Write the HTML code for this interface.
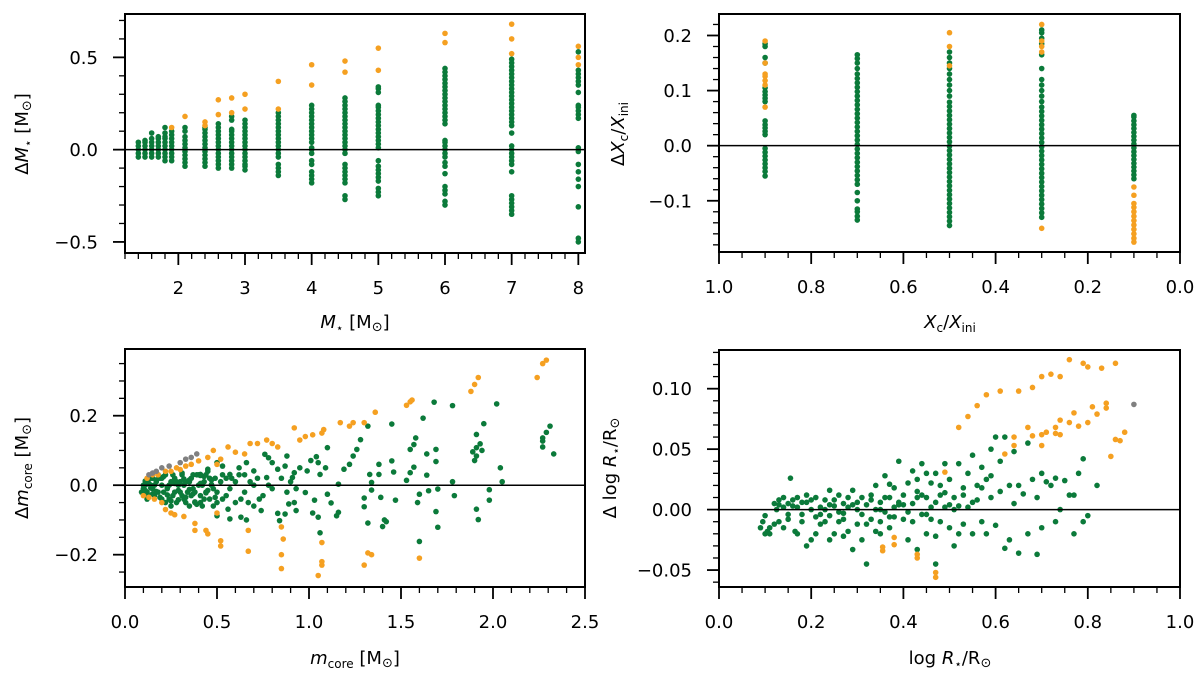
<!DOCTYPE html>
<html><head><meta charset="utf-8"><style>
body{margin:0;background:#fff;}
svg{display:block;font-family:"DejaVu Sans","Liberation Sans",sans-serif;}
</style></head><body>
<svg id="fig" width="1200" height="676" viewBox="0 0 1200 676" xmlns="http://www.w3.org/2000/svg" style="position:absolute;left:0;top:0;">
<g id="layer"></g>
</svg>
<script>
// ---------- data ----------
const massCols = [1.4,1.5,1.6,1.7,1.8,1.9,2.1,2.4,2.6,2.8,3.0,3.5,4.0,4.5,5.0,6.0,7.0,8.0];
const massGreen = [
 [-0.04,-0.02,0,0.02,0.04],
 [-0.04,-0.02,0,0.02,0.04,0.05],
 [-0.04,-0.02,0,0.02,0.04,0.06,0.09],
 [-0.04,-0.02,0,0.02,0.04,0.06,0.07],
 [-0.06,-0.04,-0.02,0,0.02,0.04,0.06,0.07,0.09,0.12],
 [-0.06,-0.04,-0.02,0,0.02,0.04,0.06,0.08,0.1],
 [-0.09,-0.07,-0.05,-0.03,-0.01,0.01,0.03,0.05,0.07,0.1,0.12],
 [-0.09,-0.07,-0.05,-0.03,-0.01,0.01,0.03,0.05,0.07,0.09,0.11,0.12],
 [-0.1,-0.08,-0.06,-0.04,-0.02,0,0.02,0.04,0.06,0.08,0.1,0.12,0.14],
 [-0.1,-0.08,-0.06,-0.04,-0.02,0,0.02,0.04,0.06,0.08,0.1,0.11,0.16,0.18],
 [-0.11,-0.09,-0.08,-0.06,-0.04,-0.02,0,0.02,0.04,0.06,0.08,0.1,0.12,0.14,0.16],
 [-0.14,-0.12,-0.1,-0.08,-0.04,-0.02,0,0.02,0.04,0.06,0.08,0.1,0.12,0.14,0.16,0.18,0.2],
 [-0.18,-0.16,-0.14,-0.12,-0.08,-0.06,-0.02,0,0.01,0.04,0.06,0.08,0.1,0.12,0.14,0.16,0.18,0.2,0.22,0.24],
 [-0.27,-0.25,-0.18,-0.16,-0.14,-0.12,-0.1,-0.08,-0.02,0,0.02,0.04,0.06,0.08,0.1,0.12,0.14,0.16,0.18,0.2,0.22,0.24,0.26,0.28],
 [-0.25,-0.23,-0.21,-0.17,-0.15,-0.13,-0.11,-0.09,-0.06,0.01,0.03,0.05,0.07,0.09,0.11,0.13,0.15,0.17,0.19,0.21,0.23,0.24,0.31,0.33,0.34],
 [-0.3,-0.28,-0.24,-0.22,-0.2,-0.13,-0.09,-0.07,-0.04,-0.02,0,0.02,0.04,0.05,0.14,0.16,0.18,0.2,0.22,0.24,0.26,0.28,0.3,0.32,0.34,0.36,0.38,0.4,0.42,0.44],
 [-0.35,-0.33,-0.31,-0.29,-0.27,-0.25,-0.12,-0.08,-0.06,-0.04,-0.02,0,0.02,0.09,0.13,0.15,0.17,0.19,0.21,0.23,0.25,0.27,0.29,0.31,0.33,0.35,0.37,0.39,0.41,0.43,0.45,0.47,0.49],
 [-0.5,-0.48,-0.31,-0.2,-0.16,-0.12,-0.08,-0.01,0.01,0.17,0.19,0.21,0.23,0.24,0.31,0.35,0.37,0.39,0.41,0.43,0.53]
];
const massOrange = [[],[],[],[],[],[0.12],[0.18],[0.13,0.15],[0.19,0.27],[0.2,0.28],[0.22,0.3],[0.22,0.37],[0.35,0.46],[0.42,0.48],[0.43,0.55],[0.58,0.63],[0.52,0.6,0.68],[0.46,0.5,0.56]];

const xcCols = [0.9,0.7,0.5,0.3,0.1];
const xcGreen = [
 [-0.055,-0.047,-0.04,-0.033,-0.026,-0.019,-0.012,-0.005,0.02,0.026,0.032,0.038,0.045,0.08,0.086,0.092,0.098,0.105,0.15,0.16,0.18,0.185],
 [-0.135,-0.128,-0.12,-0.115,-0.1,-0.085,-0.07,-0.062,-0.054,-0.046,-0.038,-0.03,-0.022,-0.014,-0.006,0.002,0.01,0.018,0.026,0.034,0.042,0.05,0.058,0.066,0.074,0.082,0.09,0.098,0.106,0.114,0.122,0.13,0.14,0.15,0.158,0.165],
 [-0.145,-0.137,-0.129,-0.121,-0.113,-0.105,-0.097,-0.089,-0.081,-0.073,-0.065,-0.057,-0.049,-0.041,-0.033,-0.025,-0.017,-0.009,-0.001,0.007,0.015,0.023,0.031,0.039,0.047,0.055,0.063,0.071,0.079,0.09,0.1,0.11,0.12,0.13,0.14,0.15,0.16,0.17],
 [-0.13,-0.122,-0.114,-0.106,-0.098,-0.09,-0.082,-0.074,-0.066,-0.058,-0.05,-0.042,-0.034,-0.026,-0.018,-0.01,-0.002,0.006,0.014,0.022,0.03,0.038,0.046,0.054,0.062,0.07,0.08,0.09,0.1,0.11,0.12,0.14,0.165,0.185,0.195,0.205,0.21],
 [-0.06,-0.053,-0.046,-0.039,-0.032,-0.025,-0.018,-0.011,-0.004,0.003,0.01,0.017,0.024,0.031,0.038,0.045,0.052,0.055]
];
const xcOrange = [[0.07,0.11,0.118,0.126,0.13,0.15,0.19],[],[0.145,0.18,0.205],[-0.15,0.17,0.18,0.19,0.22],[-0.175,-0.168,-0.16,-0.152,-0.144,-0.136,-0.128,-0.12,-0.112,-0.105,-0.09,-0.075]];

const coreGreenX = [1.68,1.78,2.02,1.62,1.45,1.32,1.95,2.31,2.29,2.27,2.27,2.27,2.33,1.91,1.93,1.91,1.94,1.89,1.9,1.91,1.58,1.57,1.55,1.64,1.69,1.69,1.57,1.55,1.53,1.64,2.04,2.05,1.78,1.45,1.38,1.38,1.46,1.33,1.34,1.28,1.26,1.24,1.22,1.19,1.16,1.1,1.04,1.01,1.05,1.09,1.06,0.99,1.6,1.59,1.65,1.7,1.79,1.47,1.39,1.3,1.3,1.34,1.41,1.42,1.4,1.32,1.6,1.69,1.7,1.91,1.92,1.98,1.98,1.06,1.05,1.02,1.12,1.16,1.15,1.1,1.03,0.98,0.93,0.92,0.89,0.87,0.84,0.83,0.74,0.66,0.63,0.57,0.56,0.5,0.95,0.92,0.91,0.87,0.88,0.83,0.8,0.76,0.78,0.77,0.7,0.66,0.62,0.57,0.53,0.5,0.45,0.41,
 0.1,0.1,0.11,0.12,0.12,0.13,0.14,0.14,0.15,0.16,0.17,0.18,0.19,0.2,0.2,0.21,0.22,0.23,0.24,0.25,0.26,0.27,0.28,0.29,0.3,0.31,0.32,0.33,0.34,0.35,0.36,0.37,0.38,0.39,0.4,0.41,0.42,0.43,0.44,0.45,0.46,0.47,0.48,0.49,0.5,0.52,0.53,0.55,0.57,0.6,0.62,0.65,0.68,0.7,0.72,0.75,0.78,0.8,0.85,0.88,0.9,0.93,
 0.12,0.15,0.18,0.22,0.25,0.27,0.3,0.33,0.36,0.4,0.43,0.46,0.5,0.55,0.6,0.65,0.7,0.16,0.2,0.24,0.28,0.32,0.35,0.38,0.42,0.48,0.1,0.09,0.13,0.26,0.31,0.37,0.41,0.44,0.53,0.58,0.63,0.67,0.73,
 0.11,0.13,0.15,0.17,0.19,0.21,0.23,0.25,0.27,0.29,0.31,0.33,0.35,0.37,0.39,0.41,0.43,0.45,0.47,0.49,0.11,0.14,0.17,0.2,0.23,0.26,0.29,0.32,0.35,0.38,0.41,0.44,0.47];
const coreGreenY = [0.239,0.229,0.234,0.193,0.176,0.17,0.177,0.17,0.152,0.136,0.127,0.11,0.09,0.146,0.119,0.108,0.1,0.096,0.071,0.084,0.136,0.117,0.103,0.09,0.103,0.068,0.052,0.036,0.014,0.029,0.05,0.01,0.01,0.07,0.06,0.031,0.038,0.031,0.008,0.131,0.103,0.084,0.06,0.046,0.003,0.108,0.082,0.071,0.065,0.05,0.031,0.041,-0.026,-0.05,-0.016,-0.011,-0.03,-0.043,-0.035,-0.037,-0.062,-0.014,-0.1,-0.105,-0.119,-0.109,-0.162,-0.076,-0.121,-0.069,-0.099,-0.013,-0.043,-0.137,-0.092,-0.08,-0.051,-0.078,-0.088,-0.026,-0.043,-0.021,-0.073,-0.05,-0.054,-0.083,-0.102,-0.081,-0.073,-0.1,-0.092,-0.097,-0.069,-0.088,0.05,0.036,0.022,0.055,0.084,0.046,0.065,0.089,0.079,0.022,0.041,0.065,0.05,0.031,0.055,0.065,0.046,0.031,
 -0.02,-0.01,0,-0.02,0.01,-0.03,0,0.02,-0.01,-0.03,0.01,-0.02,0.02,-0.04,0,-0.02,0.03,-0.01,-0.04,0.01,-0.03,0.02,-0.05,0,-0.02,0.03,-0.04,0.01,-0.02,-0.06,0.02,-0.01,-0.05,0.03,0,-0.03,-0.06,0.01,-0.02,0.04,-0.04,0,-0.06,0.02,-0.02,0.01,-0.04,0.02,-0.01,-0.05,0.03,-0.02,0.01,-0.06,0.02,-0.03,0,-0.01,0.02,-0.02,0.01,-0.01,
 -0.04,0.02,0.03,-0.05,-0.06,-0.02,0.01,-0.05,-0.03,0.03,-0.04,0.02,-0.05,-0.03,0.01,0.03,0,0,0.02,0,0.01,0,0.01,-0.02,0,-0.01,0,-0.02,0.02,0.03,-0.03,0.03,-0.05,0.03,0.03,0.02,-0.04,-0.05,-0.04,
 -0.015,0.005,-0.025,0.015,-0.035,0.025,-0.005,-0.045,0.005,-0.015,0.035,-0.035,0.015,-0.025,-0.055,0.005,0.025,-0.015,0.015,-0.035,0.012,-0.008,-0.018,0.022,-0.028,0.008,-0.042,0.018,-0.012,-0.048,0.028,-0.022,0.002];
const coreOrangeX = [0.12,0.15,0.18,0.22,0.25,0.28,0.3,0.33,0.36,0.4,0.45,0.48,0.5,0.52,0.56,0.6,0.65,0.68,0.72,0.77,0.8,0.83,0.92,0.95,0.98,1.02,1.07,1.08,1.17,1.22,1.24,1.3,1.36,1.53,1.55,1.56,1.88,1.9,1.92,2.24,2.27,2.29,
 0.1,0.13,0.16,0.2,0.22,0.25,0.27,0.32,0.38,0.38,0.44,0.45,0.5,0.52,0.52,0.67,0.67,0.85,0.86,0.85,0.85,1.05,1.07,1.07,1.07,1.3,1.32,1.34,1.6];
const coreOrangeY = [0.02,0.03,0.03,0.04,0.04,0.05,0.045,0.055,0.06,0.07,0.08,0.1,0.06,0.075,0.11,0.095,0.09,0.12,0.12,0.13,0.12,0.11,0.165,0.13,0.14,0.145,0.15,0.16,0.18,0.17,0.18,0.18,0.21,0.23,0.24,0.245,0.27,0.29,0.31,0.31,0.35,0.36,
 -0.03,-0.035,-0.04,-0.05,-0.07,-0.08,-0.085,-0.09,-0.11,-0.13,-0.13,-0.14,-0.08,-0.16,-0.175,-0.13,-0.19,-0.12,-0.155,-0.2,-0.24,-0.26,-0.165,-0.22,-0.23,-0.23,-0.195,-0.2,-0.21];
const coreGrayX = [0.13,0.15,0.17,0.2,0.24,0.3,0.33,0.36,0.39];
const coreGrayY = [0.03,0.035,0.04,0.05,0.055,0.065,0.075,0.08,0.09];

const radGreenX = [0.09,0.095,0.1,0.1,0.105,0.11,0.11,0.12,0.12,0.125,0.13,0.13,0.14,0.14,0.15,0.15,0.155,0.16,0.165,0.17,0.17,0.18,0.18,0.19,0.19,0.2,0.2,0.21,0.21,0.22,0.22,0.23,0.23,0.24,0.24,0.25,0.25,0.26,0.26,0.27,0.27,0.28,0.28,0.29,0.29,0.3,0.3,0.31,0.31,0.32,0.32,0.33,0.33,0.34,0.34,0.35,0.35,0.36,0.36,0.37,0.37,0.38,0.38,0.39,0.39,0.4,0.4,0.41,0.41,0.42,0.42,0.43,0.43,0.44,0.44,0.45,0.45,0.46,0.46,0.47,0.47,0.48,0.48,0.49,0.49,0.5,0.5,0.51,0.51,0.52,0.52,0.53,0.53,0.54,0.54,0.55,0.55,0.56,0.56,0.57,0.57,0.58,0.58,0.59,0.59,0.6,0.6,0.61,0.61,0.62,0.62,0.63,0.63,0.64,0.64,0.65,0.65,0.66,0.67,0.67,0.68,0.69,0.69,0.7,0.7,0.71,0.72,0.73,0.73,0.74,0.75,0.76,0.77,0.77,0.78,0.79,0.79,0.8,0.82,
 0.14,0.16,0.18,0.2,0.22,0.24,0.26,0.28,0.3,0.32,0.34,0.36,0.38,0.4,0.42,0.44,0.46,0.48,0.5,0.35,0.27,0.24,0.37,0.43,0.47,0.52,0.45,
 0.13,0.15,0.17,0.19,0.21,0.23,0.25,0.27,0.29,0.31,0.33,0.35,0.37,0.39,0.41,0.43,0.45,0.47,0.49,0.51,0.53,0.55,0.57,0.59];
const radGreenY = [-0.015,-0.01,-0.005,-0.02,-0.018,-0.015,-0.02,-0.012,0.005,0,0.008,-0.01,0.01,-0.015,0.005,-0.008,0.026,0.003,-0.018,0.01,-0.02,0.006,-0.01,0.012,-0.03,0,-0.025,0.01,-0.02,0.002,-0.012,0.008,-0.01,0.016,-0.005,0.003,-0.02,0.012,-0.01,-0.003,0.005,0.01,-0.018,0.016,-0.033,0,-0.012,0.01,-0.025,0.004,-0.045,-0.008,0.012,-0.018,0.02,0.006,-0.01,0.028,-0.002,0.01,-0.015,0.018,-0.006,0.004,0.04,0.012,-0.008,0.022,-0.025,0.032,0.005,0.015,-0.033,0.038,-0.004,0.01,-0.02,0.022,0.002,-0.045,0.03,0.012,-0.01,0.038,0.002,0.025,-0.015,0.01,-0.03,0.038,0.003,0.018,-0.012,0.03,0.002,0.045,-0.02,0.02,0.008,0.035,-0.01,0.025,-0.02,0.05,0.01,0.06,-0.013,0.04,0.015,0.06,-0.032,0.02,-0.025,0.048,0.005,0.02,-0.036,0.013,0.055,-0.02,0.025,0.01,-0.037,0.03,-0.015,0.023,0.02,0.026,-0.01,0,0.024,0.012,0.012,-0.02,0.03,0.042,-0.01,-0.005,0.02,
 0.002,0.008,-0.004,0.008,-0.004,0.004,-0.002,0.002,0.006,-0.012,0,0.01,0.002,0.004,-0.01,0.012,-0.008,0.02,0.004,-0.02,-0.022,-0.025,0.021,0.025,-0.022,-0.02,0.03,
 0.004,-0.004,0.002,0.006,-0.006,0.0,0.008,-0.008,0.004,-0.004,0.008,0.0,-0.006,0.006,-0.002,0.01,-0.004,0.006,0.014,0.0,0.012,0.006,0.018,0.028];
const radOrangeX = [0.52,0.54,0.56,0.58,0.61,0.65,0.68,0.7,0.72,0.74,0.76,0.79,0.8,0.83,0.86,0.62,0.64,0.64,0.67,0.68,0.7,0.7,0.71,0.73,0.73,0.74,0.74,0.76,0.77,0.78,0.8,0.81,0.82,0.84,0.84,0.85,0.86,0.87,0.88,0.355,0.355,0.38,0.38,0.43,0.43,0.47,0.47,0.49];
const radOrangeY = [0.068,0.077,0.086,0.095,0.098,0.098,0.101,0.11,0.112,0.11,0.124,0.121,0.118,0.117,0.121,0.046,0.053,0.06,0.068,0.061,0.062,0.053,0.064,0.063,0.068,0.062,0.074,0.072,0.08,0.069,0.072,0.085,0.079,0.088,0.084,0.044,0.058,0.057,0.064,-0.034,-0.031,-0.023,-0.029,-0.04,-0.037,-0.056,-0.052,0.031];
const radGrayX = [0.9];
const radGrayY = [0.087];

// ---------- rendering ----------
const NS = 'http://www.w3.org/2000/svg';
const layer = document.getElementById('layer');
const GREEN = '#0b7a3a', ORANGE = '#f5a021', GRAY = '#808080';
function el(tag, attrs, parent){
  const e = document.createElementNS(NS, tag);
  for (const k in attrs) e.setAttribute(k, attrs[k]);
  (parent||layer).appendChild(e);
  return e;
}
function makeAxes(name, box, xlim, ylim, xmaj, xmin, ymaj, ymin, xfmt, yfmt){
  const g = el('g', {});
  
  
  const sx = v => box.l + (v - xlim[0]) / (xlim[1] - xlim[0]) * (box.r - box.l);
  const sy = v => box.b - (v - ylim[0]) / (ylim[1] - ylim[0]) * (box.b - box.t);
  const marks = el('g', {}, g);
  
  
  const zl = el('line', {x1: box.l, x2: box.r, y1: sy(0), y2: sy(0), stroke: '#000', 'stroke-width': 1.5}, g);
  
  
  const frame = el('rect', {x: box.l, y: box.t, width: box.r - box.l, height: box.b - box.t, fill: 'none', stroke: '#000', 'stroke-width': 2}, g);
  
  
  const lo = Math.min(xlim[0], xlim[1]), hi = Math.max(xlim[0], xlim[1]);
  for (let v = Math.ceil(lo / xmin - 1e-6) * xmin; v <= hi + 1e-9; v += xmin) {
    const isMaj = Math.abs(v / xmaj - Math.round(v / xmaj)) < 1e-6;
    const x = sx(v);
    el('line', {x1: x, x2: x, y1: box.b, y2: box.b + (isMaj ? 12 : 6), stroke: '#000', 'stroke-width': isMaj ? 1.8 : 1.3}, g);
    if (isMaj) {
      const t = el('text', {x: x, y: box.b + 41, 'font-size': 18, 'text-anchor': 'middle', fill: '#000'}, g);
      t.textContent = xfmt(v);
      
      
    }
  }
  for (let v = Math.ceil(ylim[0] / ymin - 1e-6) * ymin; v <= ylim[1] + 1e-9; v += ymin) {
    const isMaj = Math.abs(v / ymaj - Math.round(v / ymaj)) < 1e-6;
    const y = sy(v);
    el('line', {x1: box.l, x2: box.l - (isMaj ? 12 : 6), y1: y, y2: y, stroke: '#000', 'stroke-width': isMaj ? 1.8 : 1.3}, g);
    if (isMaj) {
      const t = el('text', {x: box.l - 27, y: y + 6.5, 'font-size': 18, 'text-anchor': 'end', fill: '#000'}, g);
      t.textContent = yfmt(Math.abs(v) < 1e-9 ? 0 : v).replace('-', '\u2212');
      
      
    }
  }
  return {sx, sy, marks};
}
function dot(ax, x, y, color){
  const c = el('circle', {cx: ax.sx(x), cy: ax.sy(y), r: 2.8, fill: color}, ax.marks);
  
  
}
const f1 = v => v.toFixed(1), f2 = v => v.toFixed(2);

const axA = makeAxes('mass-panel', {l:125, r:585, t:14, b:253}, [1.2, 8.1], [-0.56, 0.735], 1, 0.2, 0.5, 0.1, v => String(Math.round(v)), f1);
massCols.forEach((m, i) => { massGreen[i].forEach(y => dot(axA, m, y, GREEN)); massOrange[i].forEach(y => dot(axA, m, y, ORANGE)); });
const axB = makeAxes('xc-panel', {l:719, r:1180, t:14, b:252}, [1.0, 0.0], [-0.193, 0.239], 0.2, 0.05, 0.1, 0.02, f1, f1);
xcCols.forEach((c, i) => { xcGreen[i].forEach(y => dot(axB, c, y, GREEN)); xcOrange[i].forEach(y => dot(axB, c, y, ORANGE)); });
const axC = makeAxes('core-panel', {l:125, r:585, t:349, b:587}, [0, 2.5], [-0.293, 0.392], 0.5, 0.1, 0.2, 0.05, f1, f1);
coreGreenX.forEach((x, i) => dot(axC, x, coreGreenY[i], GREEN));
coreOrangeX.forEach((x, i) => dot(axC, x, coreOrangeY[i], ORANGE));
coreGrayX.forEach((x, i) => dot(axC, x, coreGrayY[i], GRAY));
const axD = makeAxes('radius-panel', {l:719, r:1180, t:350, b:587}, [0, 1.0], [-0.064, 0.132], 0.2, 0.05, 0.05, 0.01, f1, f2);
radGreenX.forEach((x, i) => dot(axD, x, radGreenY[i], GREEN));
radOrangeX.forEach((x, i) => dot(axD, x, radOrangeY[i], ORANGE));
radGrayX.forEach((x, i) => dot(axD, x, radGrayY[i], GRAY));
</script>
<svg width="1200" height="676" style="position:absolute;left:0;top:0;font-family:'DejaVu Sans','Liberation Sans',sans-serif;font-size:18px;">
<text x="355" y="328" text-anchor="middle"><tspan font-style="italic">M</tspan><tspan font-size="12" dy="4">⋆</tspan><tspan dy="-4"> [M</tspan><tspan font-size="13" dy="3">⊙</tspan><tspan dy="-3">]</tspan></text>
<text transform="translate(28,134) rotate(-90)" text-anchor="middle">Δ<tspan font-style="italic">M</tspan><tspan font-size="12" dy="4">⋆</tspan><tspan dy="-4"> [M</tspan><tspan font-size="13" dy="3">⊙</tspan><tspan dy="-3">]</tspan></text>
<text x="950" y="328" text-anchor="middle"><tspan font-style="italic">X</tspan><tspan font-size="12" dy="4">c</tspan><tspan dy="-4">/</tspan><tspan font-style="italic">X</tspan><tspan font-size="12" dy="4">ini</tspan></text>
<text transform="translate(624,134) rotate(-90)" text-anchor="middle">Δ<tspan font-style="italic">X</tspan><tspan font-size="12" dy="4">c</tspan><tspan dy="-4">/</tspan><tspan font-style="italic">X</tspan><tspan font-size="12" dy="4">ini</tspan></text>
<text x="355" y="664" text-anchor="middle"><tspan font-style="italic">m</tspan><tspan font-size="12" dy="4">core</tspan><tspan dy="-4"> [M</tspan><tspan font-size="13" dy="3">⊙</tspan><tspan dy="-3">]</tspan></text>
<text transform="translate(28,468) rotate(-90)" text-anchor="middle">Δ<tspan font-style="italic">m</tspan><tspan font-size="12" dy="4">core</tspan><tspan dy="-4"> [M</tspan><tspan font-size="13" dy="3">⊙</tspan><tspan dy="-3">]</tspan></text>
<text x="950" y="664" text-anchor="middle">log <tspan font-style="italic">R</tspan><tspan font-size="12" dy="4">⋆</tspan><tspan dy="-4">/R</tspan><tspan font-size="13" dy="3">⊙</tspan></text>
<text transform="translate(616,468) rotate(-90)" text-anchor="middle">Δ log <tspan font-style="italic">R</tspan><tspan font-size="12" dy="4">⋆</tspan><tspan dy="-4">/R</tspan><tspan font-size="13" dy="3">⊙</tspan></text>
</svg>
</body></html>
